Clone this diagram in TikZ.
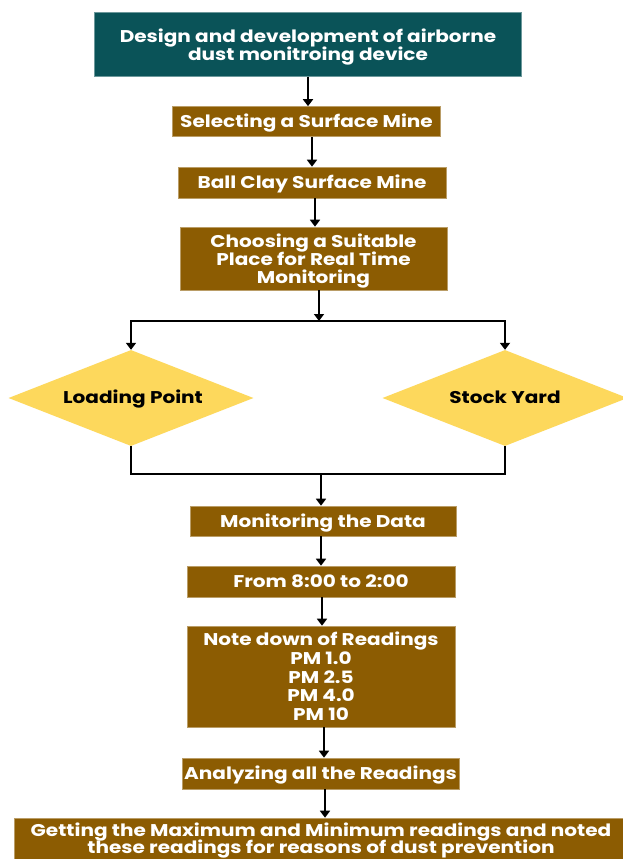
\documentclass[tikz,border=0pt]{standalone}
\usepackage{fontspec}
\setmainfont{Poppins}[FakeStretch=1.18]
\usetikzlibrary{shapes.geometric,arrows.meta}
\definecolor{teal}{HTML}{0A5358}
\definecolor{brn}{HTML}{8C5C02}
\definecolor{yel}{HTML}{FDD85C}
\tikzset{
  even/.style={execute at begin node={\rule{0pt}{17pt}}, execute at end node={\rule[-5pt]{0pt}{5pt}}},
  box/.style={rectangle, fill=brn, draw=brn!60!white, line width=0.6pt, text=white, font=\fontsize{17}{18.5}\selectfont\bfseries, align=center, inner sep=0pt, even},
  topbox/.style={box, fill=teal, draw=teal!60!white},
  line/.style={anchor=base, inner sep=0pt, text=white, font=\fontsize{17}{18.5}\selectfont\bfseries},
  dia/.style={diamond, fill=yel, draw=none, inner sep=0pt, minimum width=245pt, minimum height=96pt},
  diatext/.style={font=\fontsize{17}{19}\selectfont\bfseries, text=black, inner sep=0pt, even},
  arr/.style={line width=2.4pt, -{Triangle[width=10pt,length=7pt]}},
  ln/.style={line width=2.4pt}
}
\begin{document}
\begin{tikzpicture}[x=1pt,y=-1pt]
\useasboundingbox (0,0) rectangle (622,859);
\fill[white] (0,0) rectangle (622,859);
% top box
\node[topbox, minimum width=427pt, minimum height=64pt] (top) at (307.5,44.7) {};
\node[line] (topa) at (308,42.7) {Design and development of airborne};
\node[line] (topb) at (308,60.7) {dust monitroing device};
\node[box, minimum width=268pt, minimum height=30pt] (sel) at (306.5,121.5) {Selecting a Surface Mine};
\node[box, minimum width=268pt, minimum height=31pt] (ball) at (312,182.5) {Ball Clay Surface Mine};
% choosing
\node[box, minimum width=267pt, minimum height=63pt] (choose) at (313.5,258.5) {};
\node[line] (cha) at (313.5,247.3) {Choosing a Suitable};
\node[line] (chb) at (313.5,265.5) {Place for Real Time};
\node[line] (chc) at (313.5,283.7) {Monitoring};
% diamonds
\node[dia] (load) at (131,398) {};
\node[diatext] (loadt) at (133,397) {Loading Point};
\node[dia] (stock) at (505,398) {};
\node[diatext] (stockt) at (505,397) {Stock Yard};
\node[box, minimum width=266pt, minimum height=30pt] (mon) at (323,521) {Monitoring the Data};
\node[box, minimum width=268pt, minimum height=31pt] (from) at (321,581.5) {From 8:00 to 2:00};
% readings
\node[box, minimum width=268pt, minimum height=101pt] (note) at (321,676.5) {};
\node[line] (nta) at (321,645.5) {Note down of Readings};
\node[line] (ntb) at (321,664.25) {PM 1.0};
\node[line] (ntc) at (321,683) {PM 2.5};
\node[line] (ntd) at (321,701.75) {PM 4.0};
\node[line] (nte) at (321,720.5) {PM 10};
\node[box, minimum width=277pt, minimum height=31pt] (ana) at (320.5,773.5) {Analyzing all the Readings};
% bottom
\node[box, minimum width=610pt, minimum height=48pt] (get) at (319,842) {};
\node[line] (geta) at (321,836.5) {Getting the Maximum and Minimum readings and noted};
\node[line] (getb) at (321,853.5) {these readings for reasons of dust prevention};
% connectors
\coordinate (br) at (319,321);
\coordinate (mg) at (321,474);
\draw[arr] (308,76.7) -- (308,0 |- sel.north);
\draw[arr] (312,0 |- sel.south) -- (312,0 |- ball.north);
\draw[arr] (315,0 |- ball.south) -- (315,0 |- choose.north);
\draw[arr] (br |- choose.south) -- (br);
\draw[arr] (br) -| (load.north);
\draw[arr] (br) -| (stock.north);
\draw[ln] (load.south) |- (mg) -| (stock.south);
\draw[arr] (mg) -- (mg |- mon.north);
\draw[arr] (321,536) -- (321,0 |- from.north);
\draw[arr] (322,0 |- from.south) -- (322,0 |- note.north);
\draw[arr] (324,0 |- note.south) -- (324,0 |- ana.north);
\draw[arr] (325,0 |- ana.south) -- (325,0 |- get.north);
\end{tikzpicture}
\end{document}
